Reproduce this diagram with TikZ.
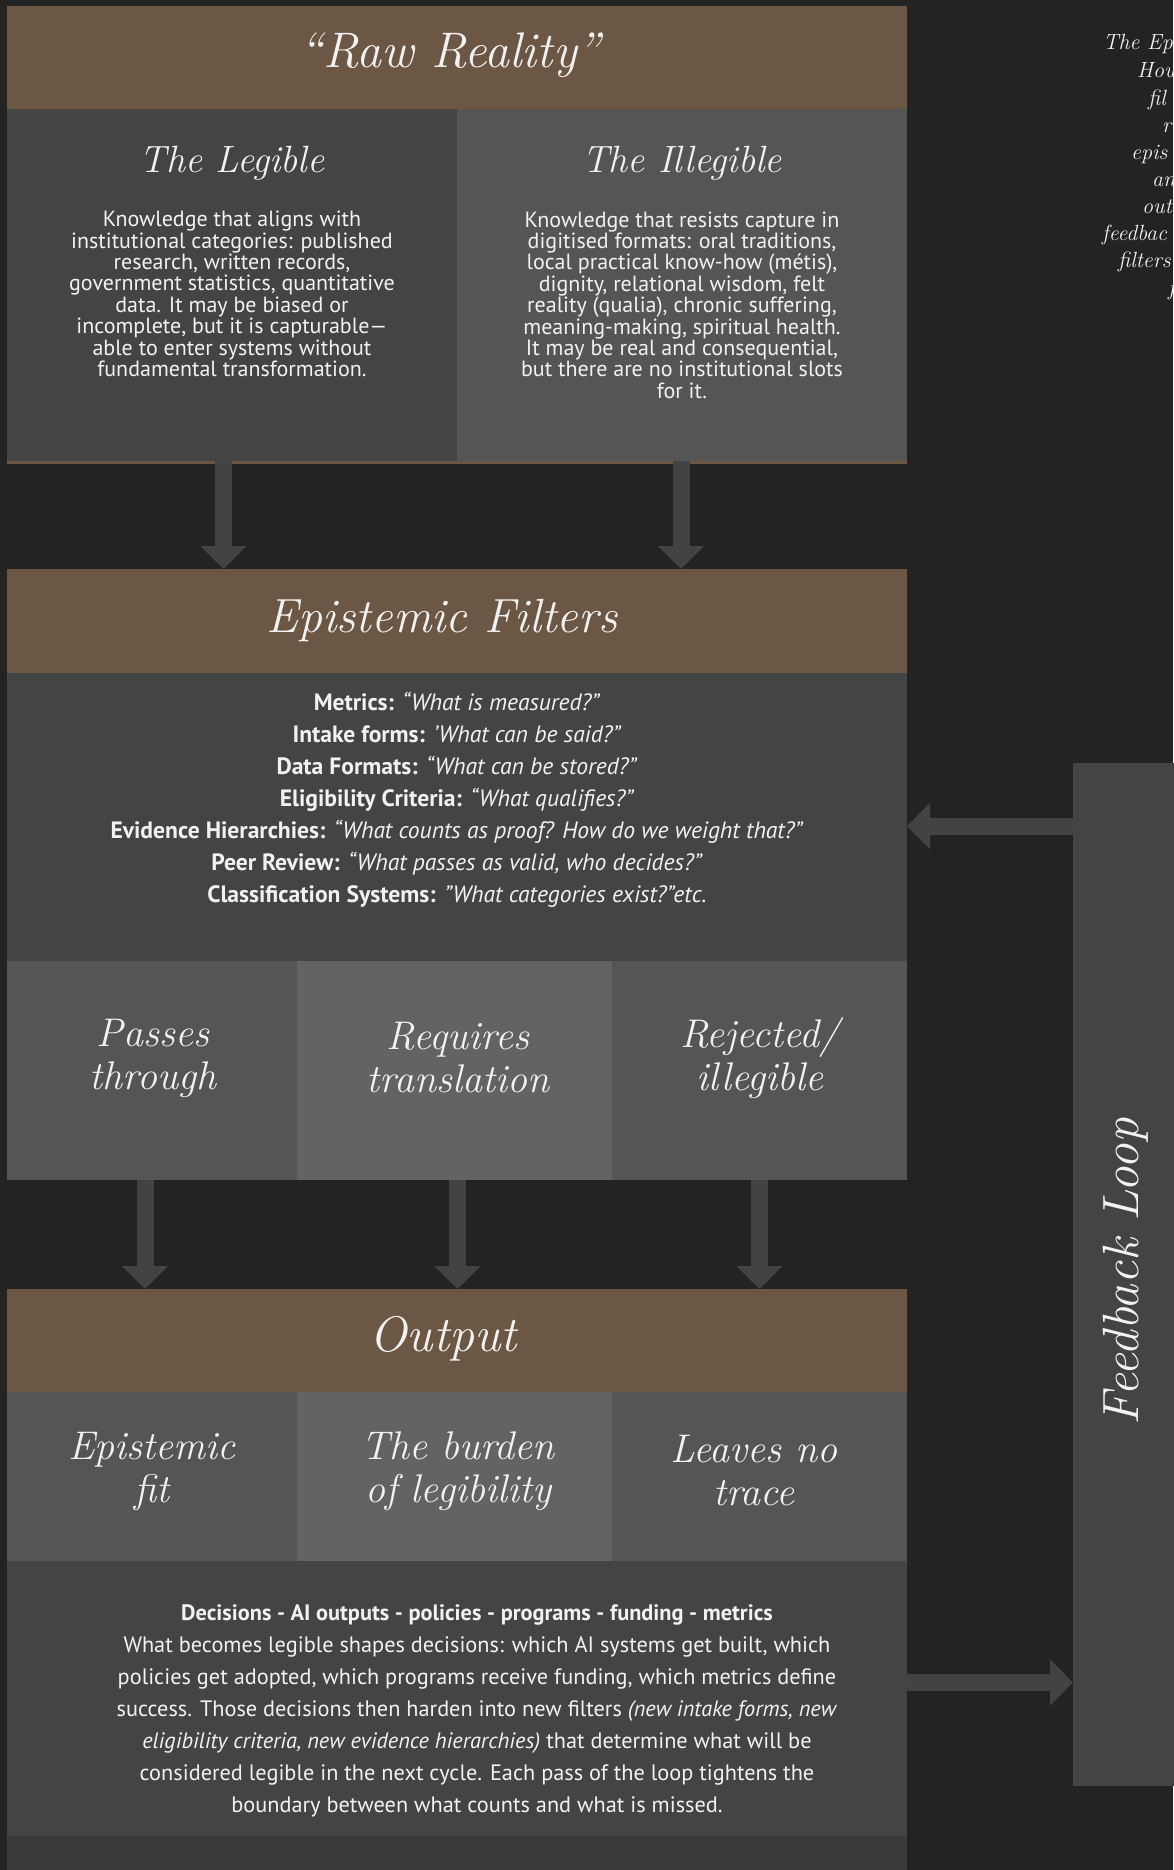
\documentclass[tikz,border=0pt]{standalone}
\usepackage{fontspec}
\setsansfont{PT Sans}
\usetikzlibrary{arrows.meta}

\definecolor{pagebg}{HTML}{232323}
\definecolor{headbrown}{HTML}{6B5744}
\definecolor{darkpanel}{HTML}{434443}
\definecolor{midpanel}{HTML}{555555}
\definecolor{lightpanel}{HTML}{636362}
\definecolor{bodygrey}{HTML}{434544}
\definecolor{arrowgrey}{HTML}{424443}
\definecolor{nextgrey}{HTML}{3B3A38}
\definecolor{textwhite}{HTML}{F2F2F2}

\tikzset{
  box/.style={anchor=north west, inner sep=0pt, outer sep=0pt},
  head/.style={box, fill=headbrown, minimum width=900pt},
  flow/.style={draw=arrowgrey, line width=17pt, -{Triangle[width=45pt,length=23pt]}},
  bigtitle/.style={text=textwhite, inner sep=0pt, font=\fontsize{48}{52}\selectfont\itshape},
  subtitle/.style={text=textwhite, inner sep=0pt, align=center, font=\fontsize{40}{43}\selectfont\itshape},
  paneltext/.style={text=textwhite, inner sep=0pt, align=center, font=\sffamily\fontsize{22}{21.4}\selectfont},
  listtext/.style={text=textwhite, inner sep=0pt, align=center, font=\sffamily\fontsize{23.6}{32}\selectfont},
  sidenote/.style={text=textwhite, inner sep=0pt, anchor=base west, font=\fontsize{22}{26}\selectfont\itshape}
}

\begin{document}
\begin{tikzpicture}[x=1pt,y=-1pt]
\useasboundingbox (0,0) rectangle (1173,1870);
\fill[pagebg] (0,0) rectangle (1173,1870);

% raw reality
\node[head, minimum height=103pt] (rawhead) at (7,6) {};
\fill[headbrown] (7,461) rectangle (907,464);
\node[box, fill=darkpanel, minimum width=450pt, minimum height=352pt] (legible) at (7,109) {};
\node[box, fill=midpanel, minimum width=450pt, minimum height=352pt] (illegible) at (457,109) {};

% filters
\node[head, minimum height=104pt] (filterhead) at (7,569) {};
\node[box, fill=bodygrey, minimum width=900pt, minimum height=288pt] (filterbody) at (7,673) {};
\node[box, fill=midpanel, minimum width=290pt, minimum height=219pt] (passes) at (7,961) {};
\node[box, fill=lightpanel, minimum width=315pt, minimum height=219pt] (translate) at (297,961) {};
\node[box, fill=midpanel, minimum width=295pt, minimum height=219pt] (rejected) at (612,961) {};

% output
\node[head, minimum height=103pt] (outhead) at (7,1289) {};
\node[box, fill=midpanel, minimum width=290pt, minimum height=169pt] (fit) at (7,1392) {};
\node[box, fill=lightpanel, minimum width=315pt, minimum height=169pt] (burden) at (297,1392) {};
\node[box, fill=midpanel, minimum width=295pt, minimum height=169pt] (notrace) at (612,1392) {};
\node[box, fill=bodygrey, minimum width=900pt, minimum height=275pt] (outbody) at (7,1561) {};
\node[box, fill=nextgrey, minimum width=900pt, minimum height=40pt] (nextbox) at (7,1836) {};

% feedback column
\node[box, fill=darkpanel, minimum width=110pt, minimum height=1023pt] (feedback) at (1073,763) {};

% arrows
\draw[flow] ([xshift=-8.5pt]legible.south) -- ([xshift=-8.5pt]legible.south |- filterhead.north);
\draw[flow] ([xshift=-1pt]illegible.south) -- ([xshift=-1pt]illegible.south |- filterhead.north);
\draw[flow] ([xshift=-7pt]passes.south) -- ([xshift=-7pt]passes.south |- outhead.north);
\draw[flow] ([xshift=3pt]translate.south) -- ([xshift=3pt]translate.south |- outhead.north);
\draw[flow] (rejected.south) -- (rejected.south |- outhead.north);
\coordinate (fbin) at ([yshift=-9pt]filterbody.east);
\draw[flow] (feedback.west |- fbin) -- (fbin);
\coordinate (fbout) at ([yshift=16pt]outbody.east);
\draw[flow] (fbout) -- (fbout -| feedback.west);

% texts
\node[bigtitle, anchor=base, font=\fontsize{50}{54}\selectfont\itshape] (rawtitle) at (450,68) {“Raw Reality”};
\node[subtitle, anchor=base, font=\fontsize{38}{41}\selectfont\itshape] (legtitle) at (232,173) {The Legible};
\node[subtitle, anchor=base, font=\fontsize{38}{41}\selectfont\itshape] (illtitle) at (682,173) {The Illegible};
\node[paneltext] (legtext) at (232,294) {Knowledge that aligns with\\
institutional categories: published\\
research, written records,\\
government statistics, quantitative\\
data. It may be biased or\\
incomplete, but it is capturable—\\
able to enter systems without\\
fundamental transformation.};
\node[paneltext] (illtext) at (682,305) {Knowledge that resists capture in\\
digitised formats: oral traditions,\\
local practical know-how (métis),\\
dignity, relational wisdom, felt\\
reality (qualia), chronic suffering,\\
meaning-making, spiritual health.\\
It may be real and consequential,\\
but there are no institutional slots\\
for it.};

\node[bigtitle, anchor=base] (filtertitle) at (442,632) {Epistemic Filters};
\node[listtext] (filterlist) at (457,800) {\textbf{Metrics:} \textit{“What is measured?"}\\
\textbf{Intake forms:} \textit{'What can be said?"}\\
\textbf{Data Formats:} \textit{“What can be stored?"}\\
\textbf{Eligibility Criteria:} \textit{“What qualifies?"}\\
\textbf{Evidence Hierarchies:} \textit{“What counts as proof? How do we weight that?"}\\
\textbf{Peer Review:} \textit{“What passes as valid, who decides?"}\\
\textbf{Classification Systems:} \textit{"What categories exist?"etc.}};

\node[subtitle] (passtitle) at (153,1058) {Passes\\through};
\node[subtitle] (transtitle) at (458,1058) {Requires\\translation};
\node[subtitle] (rejtitle) at (760,1058) {Rejected/\\illegible};

\node[bigtitle, anchor=base, font=\fontsize{50}{54}\selectfont\itshape] (outtitle) at (443,1351) {Output};
\node[subtitle] (fittitle) at (152,1471) {Epistemic\\fit};
\node[subtitle] (burdentitle) at (458,1471) {The burden\\of legibility};
\node[subtitle] (tracetitle) at (754,1471) {Leaves no\\trace};

\node[listtext, font=\sffamily\fontsize{22.3}{32}\selectfont] (outtext) at (477,1711) {\textbf{Decisions - AI outputs - policies - programs - funding - metrics}\\
What becomes legible shapes decisions: which AI systems get built, which\\
policies get adopted, which programs receive funding, which metrics define\\
success. Those decisions then harden into new filters \textit{(new intake forms, new}\\
\textit{eligibility criteria, new evidence hierarchies)} that determine what will be\\
considered legible in the next cycle. Each pass of the loop tightens the\\
boundary between what counts and what is missed.};

\node[bigtitle, rotate=90, font=\fontsize{51}{55}\selectfont\itshape] (fbtitle) at (1126,1272) {Feedback Loop};

% cut-off note at the right edge
\node[sidenote] (n1) at (1103,50) {The Ep};
\node[sidenote] (n2) at (1137,78) {How};
\node[sidenote] (n3) at (1148,106) {fil};
\node[sidenote] (n4) at (1162,133) {r};
\node[sidenote] (n5) at (1131,160) {epis};
\node[sidenote] (n6) at (1152,187) {an};
\node[sidenote] (n7) at (1142,214) {out};
\node[sidenote] (n8) at (1102,241) {feedbac};
\node[sidenote] (n9) at (1118,268) {filters};
\node[sidenote] (n10) at (1168,295) {f};
\end{tikzpicture}
\end{document}
